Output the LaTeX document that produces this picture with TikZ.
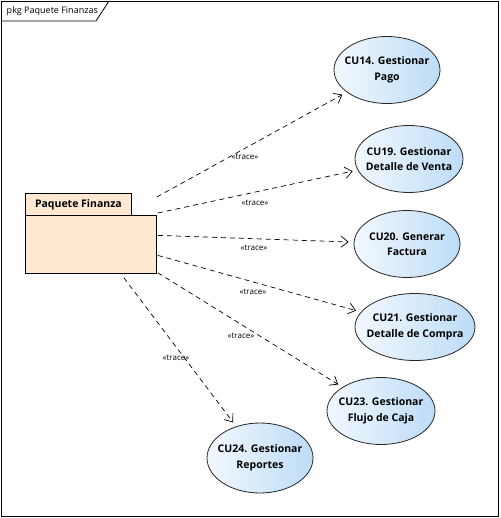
\documentclass[tikz,border=0pt]{standalone}
\usepackage{fontspec}
\setmainfont{Open Sans}
\usetikzlibrary{arrows.meta,shapes.geometric,calc}
\definecolor{cuazul}{RGB}{188,220,247}
\definecolor{cublanco}{RGB}{243,248,254}
\definecolor{paqfondo}{RGB}{255,233,211}

\begin{document}
\begin{tikzpicture}[x=1pt,y=-1pt,line width=0.8pt,>={Straight Barb[length=7pt,width=11pt]},
    caso/.style={ellipse,draw=black!85,left color=cublanco,right color=cuazul,
        minimum width=106pt,minimum height=67pt,inner xsep=-30pt,inner ysep=0pt,
        align=center,font=\bfseries\fontsize{10.5}{15.5}\selectfont},
    traza/.style={->,dash pattern=on 5pt off 4pt,line width=0.7pt,shorten >=5pt},
    estereo/.style={font=\fontsize{8}{9}\selectfont,inner sep=1pt}]
    \useasboundingbox (0,0) rectangle (500,518);
    % marco del paquete
    \draw (1,1) rectangle (498,516);
    \draw (1,21) -- (96,21) -- (109,1);
    \node[anchor=west,font=\fontsize{9}{10}\selectfont] (titulo) at (3,11) {pkg Paquete Finanzas};
    % paquete Finanza
    \node[draw,fill=paqfondo,anchor=north west,minimum width=106pt,minimum height=22pt,
        font=\bfseries\fontsize{10.5}{12}\selectfont] (pestana) at (25,193) {Paquete Finanza};
    \node[draw,fill=paqfondo,anchor=north west,minimum width=131pt,minimum height=58pt] (finanza) at (25,215) {};
    % casos de uso
    \node[caso] (cu14) at (387,70) {CU14. Gestionar\\Pago};
    \node[caso,minimum width=108pt] (cu19) at (409,159) {CU19. Gestionar\\Detalle de Venta};
    \node[caso] (cu20) at (407,244) {CU20. Generar\\Factura};
    \node[caso,minimum width=120pt] (cu21) at (415,327) {CU21. Gestionar\\Detalle de Compra};
    \node[caso,minimum width=108pt] (cu23) at (381,411) {CU23. Gestionar\\Flujo de Caja};
    \node[caso,minimum height=70pt] (cu24) at (260,458) {CU24. Gestionar\\Reportes};
    % dependencias trace
    \draw[traza] ($(finanza.north east)+(0,-18)$) -- (cu14);
    \draw[traza] ($(finanza.north east)+(1,-2)$) -- (cu19);
    \draw[traza] ($(finanza.east)+(1,-9)$) -- (cu20);
    \draw[traza] ($(finanza.east)+(1,11)$) -- (cu21);
    \draw[traza] ($(finanza.south east)+(1,-1)$) -- (cu23);
    \draw[traza] ($(finanza.south)+(33,4)$) -- (cu24);
    \node[estereo] (t14) at (245,157) {«trace»};
    \node[estereo] (t19) at (255,203) {«trace»};
    \node[estereo] (t20) at (254,248) {«trace»};
    \node[estereo] (t21) at (253,292) {«trace»};
    \node[estereo] (t23) at (241,336) {«trace»};
    \node[estereo] (t24) at (176,358) {«trace»};
\end{tikzpicture}
\end{document}
